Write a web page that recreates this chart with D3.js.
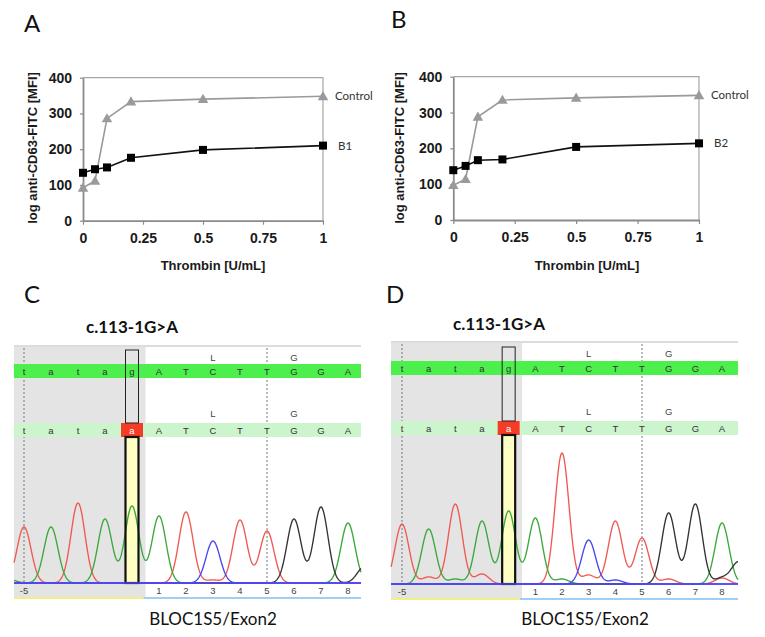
<!DOCTYPE html>
<html><head><meta charset="utf-8">
<script src="https://cdn.jsdelivr.net/npm/d3@7"></script>
<style>body{margin:0;background:#fff}</style>
</head><body><svg id="c" width="765" height="637" xmlns="http://www.w3.org/2000/svg"></svg>
<script>
// ---------- data: platelet CD63 response ----------
const thrombin = [0, 0.05, 0.1, 0.2, 0.5, 1];
const controlA = [92, 111, 286, 333, 340, 348];
const patientA = [134, 144, 149, 176, 198, 210];
const controlB = [97, 114, 288, 335, 341, 348];
const patientB = [139, 151, 167, 169, 204, 214];
const yTickValues = [0, 100, 200, 300, 400];
const xTickValues = [0, 0.25, 0.5, 0.75, 1];
const xTickLabels = ["0", "0.25", "0.5", "0.75", "1"];

// ---------- data: sequencing ----------
const refSeq = ["t","a","t","a","g","A","T","C","T","T","G","G","A"];
const sampleSeq = ["t","a","t","a","a","A","T","C","T","T","G","G","A"];
const positionLabels = ["-5","","","","","1","2","3","4","5","6","7","8"];
const aminoLabels = ["","","","","","","","L","","","G","",""];
// peaks: [base index, signal height]
const peaksC_T = [[0,56],[2,80],[6,71],[8,63],[9,52],[7,3]];
const peaksC_A = [[-0.6,4],[1,56],[3,64],[4,77],[5,67],[12,60]];
const peaksC_C = [[7,42]];
const peaksC_G = [[10,64],[11,76],[12.6,16]];
const peaksD_T = [[0,60],[1,7],[2,80],[3,10],[6,131],[7,9],[8,63],[9,46],[10,5],[12,6]];
const peaksD_A = [[1,55],[2,5],[3,63],[4,73],[5,66],[6,5],[12,61]];
const peaksD_C = [[7,44],[8,4]];
const peaksD_G = [[10,71],[11,80],[12,6],[12.62,22]];

const svg = d3.select("#c");
const CAL = "Lato, 'Open Sans', sans-serif";
const ARIAL = "'Liberation Sans', Arial, sans-serif";

// ---------- line charts ----------
function lineChart(cfg) {
  const g = svg.append("g");
  const x = d3.scaleLinear().domain([0, 1]).range([cfg.x0, cfg.x1]);
  const y = d3.scaleLinear().domain([0, 400]).range([cfg.y0, cfg.y1]);
  // frame
  g.append("path").attr("d", `M${cfg.x0},${y(400)}H${x(1)}V${y(0)}`)
    .attr("fill", "none").attr("stroke", "#a6a6a6").attr("stroke-width", 1.2);
  const ya = g.append("g").attr("transform", `translate(${cfg.x0},0)`)
    .call(d3.axisLeft(y).tickValues(yTickValues).tickSize(3).tickPadding(8).tickSizeOuter(0));
  const xa = g.append("g").attr("transform", `translate(0,${cfg.y0})`)
    .call(d3.axisBottom(x).tickValues(xTickValues).tickFormat((d, i) => xTickLabels[i]).tickSize(4).tickPadding(8).tickSizeOuter(0));
  [ya, xa].forEach(a => {
    a.select(".domain").attr("stroke", "#8a8a8a").attr("stroke-width", 1.8);
    a.selectAll(".tick line").attr("stroke", "#8a8a8a").attr("stroke-width", 1.2);
    a.selectAll("text").attr("font-family", ARIAL).attr("font-weight", "bold")
      .attr("font-size", 14).attr("fill", "#1a1a1a");
  });
  const line = d3.line().x((d, i) => x(thrombin[i])).y(d => y(d));
  // control
  g.append("path").datum(cfg.control).attr("d", line).attr("fill", "none")
    .attr("stroke", "#9a9a9a").attr("stroke-width", 1.6);
  g.selectAll(".tri").data(cfg.control).join("path")
    .attr("transform", (d, i) => `translate(${x(thrombin[i])},${y(d) + 0.8})`)
    .attr("d", d3.symbol().type(d3.symbolTriangle).size(48)).attr("fill", "#9a9a9a");
  // patient
  g.append("path").datum(cfg.patient).attr("d", line).attr("fill", "none")
    .attr("stroke", "#111").attr("stroke-width", 1.6);
  g.selectAll(".sq").data(cfg.patient).join("rect")
    .attr("x", (d, i) => x(thrombin[i]) - 4).attr("y", d => y(d) - 4)
    .attr("width", 8).attr("height", 8).attr("fill", "#000");
  // series labels
  g.append("text").attr("x", x(1) + 12).attr("y", y(cfg.control[5]) + 4)
    .text("Control").attr("font-family", CAL).attr("font-size", 11.5).attr("fill", "#333");
  g.append("text").attr("x", x(1) + 15).attr("y", y(cfg.patient[5]) + 4)
    .text(cfg.name).attr("font-family", CAL).attr("font-size", 11.5).attr("fill", "#333");
  // titles
  g.append("text").attr("x", cfg.xTitleX).attr("y", 270).attr("text-anchor", "middle")
    .text("Thrombin [U/mL]").attr("font-family", ARIAL).attr("font-weight", "bold")
    .attr("font-size", 13).attr("fill", "#1a1a1a");
  g.append("text").attr("transform", `translate(${cfg.yTitleX},148) rotate(-90)`)
    .attr("text-anchor", "middle").text("log anti-CD63-FITC [MFI]")
    .attr("font-family", ARIAL).attr("font-weight", "bold").attr("font-size", 13).attr("fill", "#1a1a1a");
  svg.append("text").attr("x", cfg.letterX).attr("y", cfg.letterY).text(cfg.letter)
    .attr("font-family", CAL).attr("font-size", 24).attr("fill", "#111");
}

lineChart({x0: 83, x1: 323, y0: 220.7, y1: 77.7, control: controlA, patient: patientA,
  name: "B1", xTitleX: 213, yTitleX: 37, letter: "A", letterX: 24, letterY: 32});
lineChart({x0: 453.3, x1: 699, y0: 220, y1: 76.7, control: controlB, patient: patientB,
  name: "B2", xTitleX: 587, yTitleX: 404, letter: "B", letterX: 391, letterY: 28});

// ---------- chromatograms ----------
function chrom(cfg) {
  const g = svg.append("g");
  const xb = d3.scaleLinear().domain([0, 12]).range([cfg.first, cfg.last]);
  const hs = d3.scaleLinear().domain([0, 140]).range([cfg.base, cfg.base - 140]);
  const grayR = xb(4.5);
  g.append("rect").attr("x", cfg.left).attr("y", cfg.top + 1).attr("width", grayR - cfg.left)
    .attr("height", cfg.base + 15 - cfg.top - 1).attr("fill", "#e4e4e4");
  g.append("line").attr("x1", cfg.left).attr("x2", cfg.right).attr("y1", cfg.top).attr("y2", cfg.top)
    .attr("stroke", "#dcdcdc").attr("stroke-width", 2);
  // dashed guides
  [0, 9].forEach(i => g.append("line").attr("x1", xb(i)).attr("x2", xb(i))
    .attr("y1", cfg.top + 2).attr("y2", cfg.base).attr("stroke", "#777")
    .attr("stroke-width", 1).attr("stroke-dasharray", "2,2"));
  // sequence bars
  g.append("rect").attr("x", cfg.left).attr("y", cfg.bar1).attr("width", cfg.right - cfg.left)
    .attr("height", 14).attr("fill", "#4cef4c");
  g.append("rect").attr("x", cfg.left).attr("y", cfg.bar2).attr("width", cfg.right - cfg.left)
    .attr("height", 14).attr("fill", "#cdf5cd");
  // mutation
  g.append("rect").attr("x", xb(4) - 11).attr("y", cfg.bar2).attr("width", 22).attr("height", 14)
    .attr("fill", "#f43c26");
  g.append("rect").attr("x", xb(4) - 6.5).attr("y", cfg.bar2 + 14).attr("width", 13)
    .attr("height", cfg.base - cfg.bar2 - 14).attr("fill", "#ffffc4");
  const letterStyle = s => s.attr("font-family", ARIAL).attr("font-size", 9.5).attr("text-anchor", "middle");
  g.selectAll(".r1").data(refSeq).join("text").attr("x", (d, i) => xb(i)).attr("y", cfg.bar1 + 10.5)
    .text(d => d).call(letterStyle).attr("fill", "#333");
  g.selectAll(".r2").data(sampleSeq).join("text").attr("x", (d, i) => xb(i)).attr("y", cfg.bar2 + 10.5)
    .text(d => d).call(letterStyle).attr("fill", (d, i) => i === 4 ? "#fff" : "#333");
  [cfg.aa1, cfg.aa2].forEach(yy => g.selectAll(null).data(aminoLabels).join("text")
    .attr("x", (d, i) => xb(i)).attr("y", yy + 3.5).text(d => d).call(letterStyle).attr("fill", "#444"));
  // traces
  const sigma = 0.26;
  const chans = [[cfg.T, "#ee5a52"], [cfg.A, "#3aa83a"], [cfg.G, "#333"], [cfg.C, "#4a46f2"]];
  const xsPts = d3.range(cfg.left, cfg.right + 0.01, 0.5);
  chans.forEach(([pk, col]) => {
    const vals = xsPts.map(px => {
      const b = xb.invert(px);
      return d3.sum(pk, p => p[1] * Math.exp(-((b - p[0]) ** 2) / (2 * sigma * sigma)));
    });
    g.append("path").datum(vals).attr("fill", "none").attr("stroke", col).attr("stroke-width", 1.35)
      .attr("d", d3.line().x((d, i) => xsPts[i]).y(d => hs(d)));
  });
  // outline box
  g.append("rect").attr("x", xb(4) - 6.5).attr("y", cfg.boxTop).attr("width", 13)
    .attr("height", cfg.bar2 - cfg.boxTop).attr("fill", "none").attr("stroke", "#222").attr("stroke-width", 1);
  g.append("rect").attr("x", xb(4) - 6.5).attr("y", cfg.bar2 + 14).attr("width", 13)
    .attr("height", cfg.base - cfg.bar2 - 14).attr("fill", "none").attr("stroke", "#111").attr("stroke-width", 2.2);
  // baseline and position numbers
  g.append("line").attr("x1", cfg.left).attr("x2", cfg.right).attr("y1", cfg.base).attr("y2", cfg.base)
    .attr("stroke", "#5046ff").attr("stroke-width", 1.6);
  g.selectAll(".pos").data(positionLabels).join("text").attr("x", (d, i) => xb(i)).attr("y", cfg.base + 11)
    .text(d => d).call(letterStyle).attr("fill", "#444");
  g.append("line").attr("x1", cfg.left).attr("x2", grayR - 2).attr("y1", cfg.base + 15).attr("y2", cfg.base + 15)
    .attr("stroke", "#f4ee84").attr("stroke-width", 2);
  g.append("line").attr("x1", grayR - 2).attr("x2", cfg.right).attr("y1", cfg.base + 15).attr("y2", cfg.base + 15)
    .attr("stroke", "#a2cdf4").attr("stroke-width", 2);
  // texts
  g.append("text").attr("x", cfg.mutX).attr("y", cfg.mutY).text("c.113-1G>A")
    .attr("font-family", CAL).attr("font-weight", "bold").attr("font-size", 17).attr("fill", "#111");
  g.append("text").attr("x", cfg.geneX).attr("y", 625).attr("text-anchor", "middle").text("BLOC1S5/Exon2")
    .attr("font-family", CAL).attr("font-size", 17).attr("fill", "#111");
  svg.append("text").attr("x", cfg.letterX).attr("y", 303).text(cfg.letter)
    .attr("font-family", CAL).attr("font-size", 24).attr("fill", "#111");
}

chrom({left: 14, right: 361, first: 24, last: 348, top: 346, bar1: 364, bar2: 423, aa1: 357, aa2: 413,
  boxTop: 350, base: 583, T: peaksC_T, A: peaksC_A, C: peaksC_C, G: peaksC_G,
  mutX: 86, mutY: 333, geneX: 213, letter: "C", letterX: 24});
chrom({left: 391, right: 738, first: 402, last: 722, top: 342, bar1: 361, bar2: 421, aa1: 353, aa2: 411,
  boxTop: 347, base: 584, T: peaksD_T, A: peaksD_A, C: peaksD_C, G: peaksD_G,
  mutX: 453, mutY: 330, geneX: 585, letter: "D", letterX: 386});
</script></body></html>
